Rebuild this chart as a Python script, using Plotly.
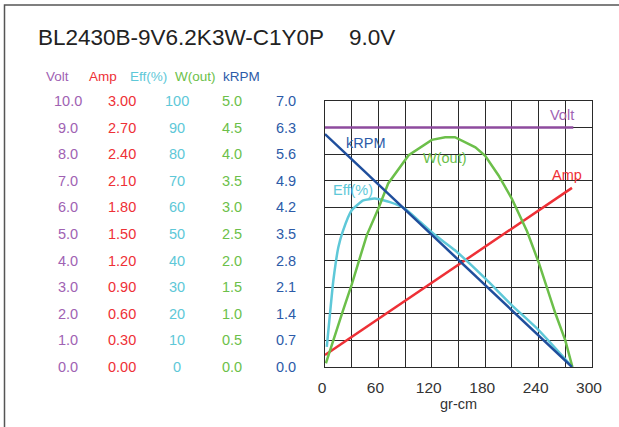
import plotly.graph_objects as go

# ---------------- data ----------------
title_text = "BL2430B-9V6.2K3W-C1Y0P&nbsp;&nbsp;&nbsp;&nbsp;9.0V"

x_tickvals = [0, 30, 60, 90, 120, 150, 180, 210, 240, 270, 300]
x_ticktext = ["0", "", "60", "", "120", "", "180", "", "240", "", "300"]

volt_ticks = ["0.0", "1.0", "2.0", "3.0", "4.0", "5.0", "6.0", "7.0", "8.0", "9.0", "10.0"]
amp_ticks = ["0.00", "0.30", "0.60", "0.90", "1.20", "1.50", "1.80", "2.10", "2.40", "2.70", "3.00"]
eff_ticks = ["0", "10", "20", "30", "40", "50", "60", "70", "80", "90", "100"]
wout_ticks = ["0.0", "0.5", "1.0", "1.5", "2.0", "2.5", "3.0", "3.5", "4.0", "4.5", "5.0"]
krpm_ticks = ["0.0", "0.7", "1.4", "2.1", "2.8", "3.5", "4.2", "4.9", "5.6", "6.3", "7.0"]

volt_torque = [0, 279]
volt_vals = [9.0, 9.0]

amp_torque = [0, 277.5]
amp_vals = [0.135, 2.02]

krpm_torque = [0, 277.5]
krpm_vals = [6.13, 0.0]

eff_torque = [2, 5.6, 9.4, 15, 20, 30, 43, 56, 73, 90, 107, 124, 146, 180, 210, 240, 278]
eff_vals = [7.6, 20, 32.6, 45, 51, 58.9, 62.6, 63.3, 62, 59.5, 54.5, 49.5, 43.9, 33.3, 23.2, 13.9, 0]

wout_torque = [1, 10, 20, 30, 47, 60, 71, 94, 120, 135, 146, 169, 180, 195, 210, 227, 240, 259, 270, 278]
wout_vals = [0.07, 0.55, 1.05, 1.55, 2.48, 2.98, 3.45, 3.98, 4.27, 4.32, 4.32, 4.13, 3.97, 3.60, 3.16, 2.55, 1.97, 1.0, 0.5, 0.0]

# ---------------- styling ----------------
FONT = "Liberation Sans, Arial, sans-serif"
C_VOLT_T, C_VOLT_L = "#a062b3", "#8e4b9e"
C_AMP = "#ee3036"
C_EFF = "#5ec8d8"
C_W = "#6cbf4a"
C_KRPM_T, C_KRPM_L = "#2c5ba8", "#1f4e9c"

W, H = 619, 427
ML, MR, MT, MB = 325, 27, 101, 60
PW, PH = W - ML - MR, H - MT - MB


def px_x(px):
    return (px - ML) / PW


def px_y(py):
    return (H - MB - py) / PH


fig = go.Figure()
fig.add_trace(go.Scatter(x=volt_torque, y=volt_vals, mode="lines", yaxis="y",
                         line=dict(color=C_VOLT_L, width=2.5), showlegend=False))
fig.add_trace(go.Scatter(x=amp_torque, y=amp_vals, mode="lines", yaxis="y2",
                         line=dict(color=C_AMP, width=2.5), showlegend=False))
fig.add_trace(go.Scatter(x=eff_torque, y=eff_vals, mode="lines", yaxis="y3",
                         line=dict(color=C_EFF, width=2.5, shape="spline", smoothing=0.5), showlegend=False))
fig.add_trace(go.Scatter(x=wout_torque, y=wout_vals, mode="lines", yaxis="y4",
                         line=dict(color=C_W, width=2.5), showlegend=False))
fig.add_trace(go.Scatter(x=krpm_torque, y=krpm_vals, mode="lines", yaxis="y5",
                         line=dict(color=C_KRPM_L, width=2.5), showlegend=False))

hidden = dict(overlaying="y", showgrid=False, showticklabels=False, showline=False,
              zeroline=False, fixedrange=True)

annotations = []
# column headers
headers = [("Volt", 57, C_VOLT_T), ("Amp", 103, C_AMP), ("Eff(%)", 148, C_EFF),
           ("W(out)", 195, C_W), ("kRPM", 241, C_KRPM_T)]
for txt, cx, col in headers:
    annotations.append(dict(text=txt, x=px_x(cx), y=px_y(76), xref="paper", yref="paper",
                            xanchor="center", yanchor="middle", showarrow=False,
                            font=dict(family=FONT, size=13.5, color=col)))
# value columns
cols = [(volt_ticks, 67.5, C_VOLT_T), (amp_ticks, 122, C_AMP), (eff_ticks, 177, C_EFF),
        (wout_ticks, 232, C_W), (krpm_ticks, 286, C_KRPM_T)]
for ticks, cx, col in cols:
    for i, t in enumerate(ticks):
        annotations.append(dict(text=t, x=px_x(cx), y=i, xref="paper", yref="y",
                                xanchor="center", yanchor="middle", showarrow=False,
                                font=dict(family=FONT, size=14.5, color=col)))
# in-plot series labels
labels = [("Volt", 266.3, 9.47, C_VOLT_T), ("Amp", 272, 7.21, C_AMP), ("kRPM", 45, 8.42, C_KRPM_T),
          ("W(out)", 135, 7.85, C_W), ("Eff(%)", 31, 6.65, C_EFF)]
for txt, xv, yv, col in labels:
    annotations.append(dict(text=txt, x=xv, y=yv, xref="x", yref="y", xanchor="center",
                            yanchor="middle", showarrow=False,
                            font=dict(family=FONT, size=14.5, color=col)))
# title
annotations.append(dict(text=title_text, x=px_x(36), y=px_y(37), xref="paper", yref="paper",
                        xanchor="left", yanchor="middle", showarrow=False,
                        font=dict(family=FONT, size=22.5, color="#222222")))
# x axis title
annotations.append(dict(text="gr-cm", x=0.5, y=px_y(404), xref="paper", yref="paper",
                        xanchor="center", yanchor="middle", showarrow=False,
                        font=dict(family=FONT, size=14.5, color="#333333")))

# outer frame: only left and top edges are visible in the reference
frame_path = "M {x0},{y0} L {x0},{y1} L {x1},{y1}".format(
    x0=px_x(4.5), y0=px_y(430), y1=px_y(5), x1=px_x(625))

fig.update_layout(
    width=W, height=H,
    margin=dict(l=ML, r=MR, t=MT, b=MB, pad=0),
    paper_bgcolor="white", plot_bgcolor="white",
    font=dict(family=FONT),
    annotations=annotations,
    shapes=[dict(type="path", xref="paper", yref="paper", path=frame_path,
                 line=dict(color="#555555", width=1.5), layer="below")],
    xaxis=dict(range=[0, 300], tickvals=x_tickvals, ticktext=x_ticktext,
               showgrid=True, gridcolor="#2a2a2a", gridwidth=1, zeroline=False,
               showline=True, linecolor="#2a2a2a", linewidth=1, mirror=True,
               ticks="", ticklabelstandoff=6, ticklabelshift=-3,
               tickfont=dict(family=FONT, size=15.5, color="#333333"), fixedrange=True),
    yaxis=dict(range=[0, 10], dtick=1, tick0=0, showgrid=True, gridcolor="#2a2a2a", gridwidth=1,
               zeroline=False, showline=True, linecolor="#2a2a2a", linewidth=1, mirror=True,
               showticklabels=False, ticks="", fixedrange=True),
    yaxis2=dict(range=[0, 3], **hidden),
    yaxis3=dict(range=[0, 100], **hidden),
    yaxis4=dict(range=[0, 5], **hidden),
    yaxis5=dict(range=[0, 7], **hidden),
)

fig.write_html("out.html", config={"displayModeBar": False},
               post_script="document.body.style.margin='0px';")
